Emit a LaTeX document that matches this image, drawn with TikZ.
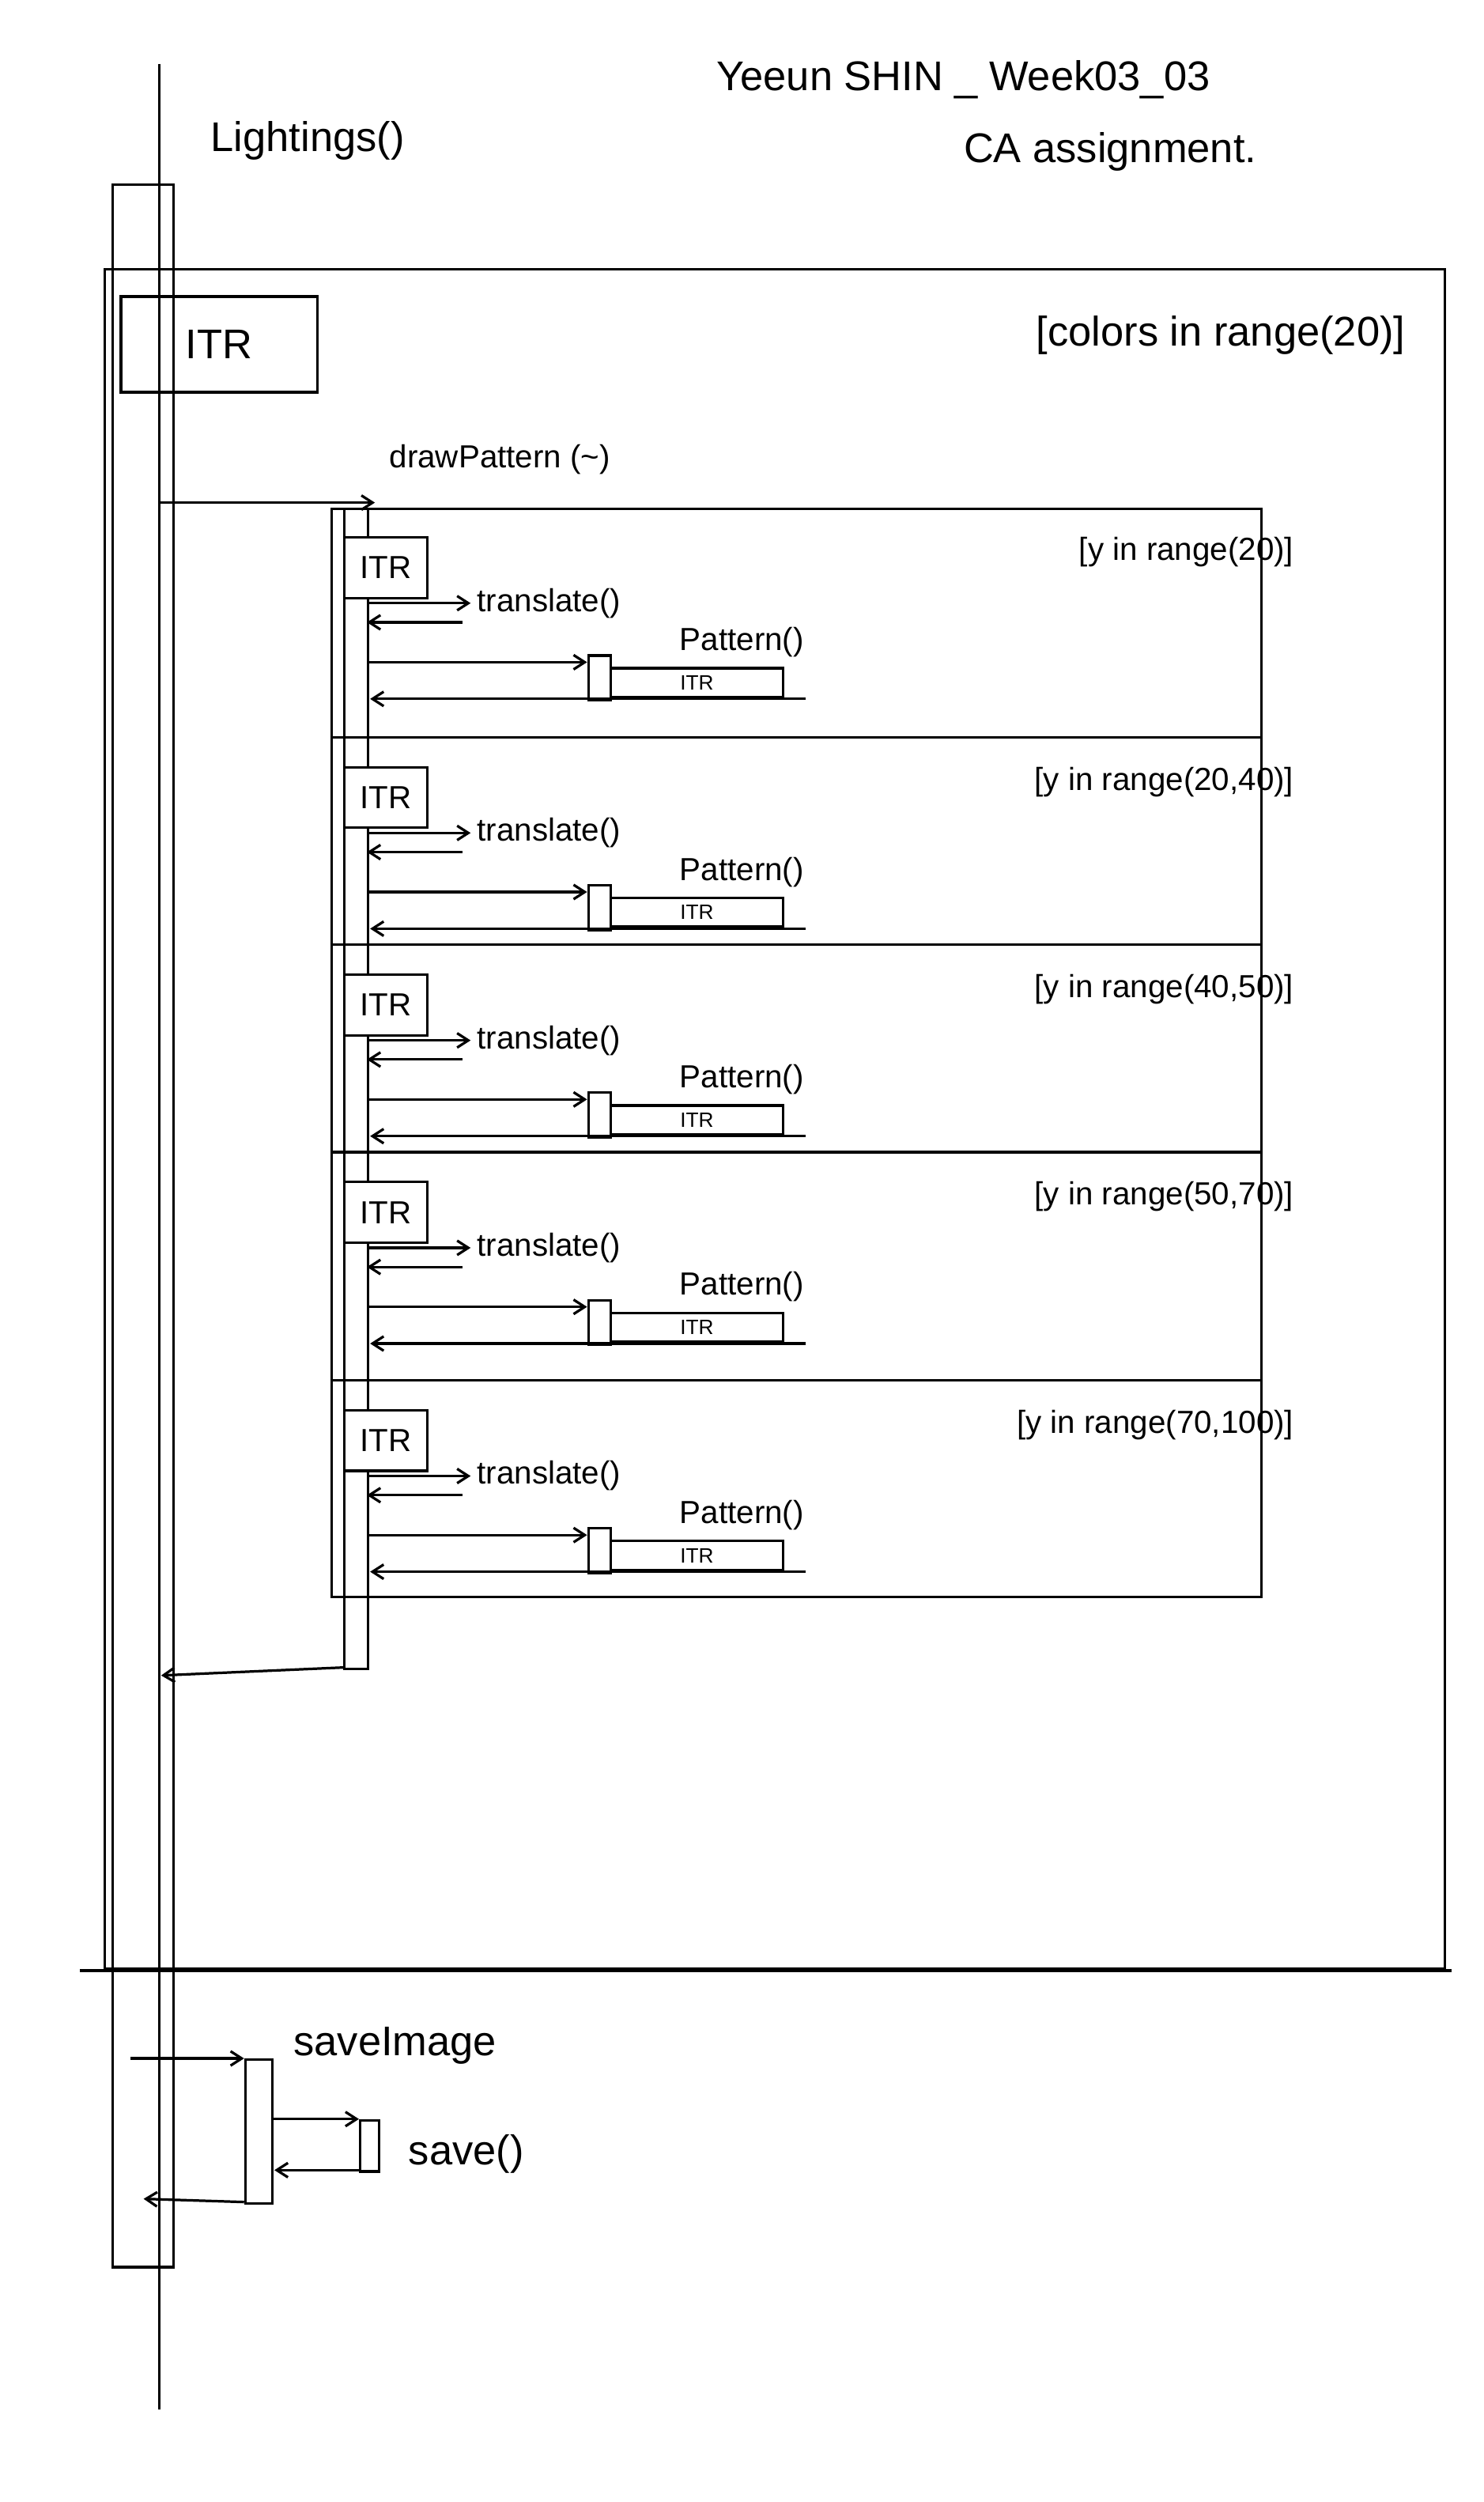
\documentclass[tikz,border=0pt]{standalone}
\usepackage{fontspec}
\setmainfont{Liberation Sans}
\usetikzlibrary{arrows.meta}
\begin{document}
\begin{tikzpicture}[x=1pt,y=-1pt,line width=1.6pt,
  msg/.style={-{Straight Barb[length=7pt,width=9pt]}},
  big/.style={font=\fontsize{26}{28}\selectfont},
  mid/.style={font=\fontsize{20}{22}\selectfont},
  sml/.style={font=\fontsize{13}{14}\selectfont}]
\useasboundingbox[fill=white] (0,0) rectangle (930,1568);
% title
\node[big,anchor=west] (title) at (445,50) {Yeeun SHIN \_ Week03\_03};
\node[big,anchor=west] (ca) at (600,95) {CA assignment.};
% main lifeline
\coordinate (lt) at (100,40); \coordinate (lb) at (100,1510);
\draw (lt) -- (lb);
\node[draw,minimum width=38pt,minimum height=1305pt,inner sep=0,anchor=north west] (act) at (70,115) {};
\node[big,anchor=west] (light) at (128,88) {Lightings()};
% big loop frame
\node[draw,minimum width=840pt,minimum height=1065pt,inner sep=0,anchor=north west] (frame) at (65,168) {};
\coordinate (bl) at (50,1235); \coordinate (br) at (910,1235);
\draw (bl) -- (br);
\node[draw,big,minimum width=123pt,minimum height=60pt,anchor=north west] (itr0) at (75,185) {ITR};
\node[big,anchor=east] (cond0) at (885,210) {[colors in range(20)]};
% drawPattern
\node[draw,fill=white,minimum width=15pt,minimum height=727pt,inner sep=0,anchor=north west] (act2) at (215,318) {};
\coordinate (dpS) at (100,315); \coordinate (dpE) at (235,315);
\draw[msg] (dpS) -- (dpE);
\node[mid,anchor=west] (dpl) at (240,288) {drawPattern (\textasciitilde)};
\coordinate (rS) at (215,1045); \coordinate (rE) at (101,1050);
\draw[msg] (rS) -- (rE);
% inner frames
\node[draw,minimum width=583pt,minimum height=682pt,inner sep=0,anchor=north west] (inner) at (207,318) {};
\foreach \yy/\lab [count=\i] in {318/{[y in range(20)]},462/{[y in range(20,40)]},592/{[y in range(40,50)]},722/{[y in range(50,70)]},865/{[y in range(70,100)]}}{
  \ifnum\i>1 \draw (207,\yy) coordinate (d\i a) -- (790,\yy) coordinate (d\i b);\fi
  \node[draw,mid,fill=white,minimum width=52pt,minimum height=38pt,inner sep=1pt,anchor=north west] (itr\i) at (215,\yy+18) {ITR};
  \node[mid,anchor=east] (cond\i) at (815,\yy+28) {\lab};
  \coordinate (tS\i) at (230,\yy+60); \coordinate (tE\i) at (295,\yy+60);
  \draw[msg] (tS\i) -- (tE\i) node[mid,right] (tl\i) {translate()};
  \coordinate (tR\i) at (290,\yy+72); \coordinate (tRE\i) at (230,\yy+72);
  \draw[msg] (tR\i) -- (tRE\i);
  \node[draw,minimum width=14pt,minimum height=28pt,inner sep=0,anchor=north west] (pa\i) at (368,\yy+92) {};
  \node[draw,sml,minimum width=108pt,minimum height=18pt,inner sep=0,anchor=north west] (pb\i) at (382,\yy+100) {ITR};
  \coordinate (pS\i) at (230,\yy+97);
  \draw[msg] (pS\i) -- (pa\i.north west |- pS\i);
  \node[mid,anchor=south] (pl\i) at (465,\yy+98) {Pattern()};
  \coordinate (pR\i) at (505,\yy+120); \coordinate (pRE\i) at (232,\yy+120);
  \draw[msg] (pR\i) -- (pRE\i);
}
% saveImage
\node[draw,fill=white,minimum width=17pt,minimum height=90pt,inner sep=0,anchor=north west] (act3) at (153,1290) {};
\coordinate (sS) at (82,1290);
\draw[msg] (sS) -- (act3.north west) ;
\node[big,anchor=west] (sil) at (180,1282) {saveImage};
\node[draw,minimum width=12pt,minimum height=32pt,inner sep=0,anchor=north west] (act4) at (225,1328) {};
\coordinate (s1) at (170,1328);
\draw[msg] (s1) -- (act4.north west);
\coordinate (s2) at (225,1360); \coordinate (s3) at (172,1360);
\draw[msg] (s2) -- (s3);
\node[big,anchor=west] (svl) at (252,1350) {save()};
\coordinate (s4) at (153,1380); \coordinate (s5) at (90,1378);
\draw[msg] (s4) -- (s5);
\end{tikzpicture}
\end{document}
